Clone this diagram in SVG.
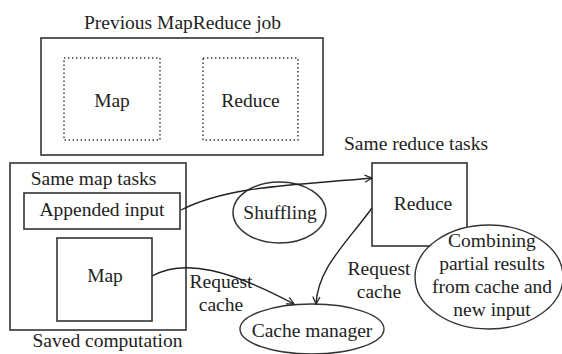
<svg xmlns="http://www.w3.org/2000/svg" width="562" height="354" viewBox="0 0 562 354" font-family="Liberation Serif, serif">
<style>
text{font-family:Liberation Serif,Times New Roman,serif;font-size:19.5px;fill:#222;text-anchor:middle}
.box{fill:none;stroke:#333;stroke-width:1.6}
.dot{fill:none;stroke:#333;stroke-width:1.4;stroke-dasharray:1.4 2.6}
.ell{fill:#fff;stroke:#333;stroke-width:1.4}
.conn{fill:none;stroke:#222;stroke-width:1.4;marker-end:url(#arr)}
</style>
<defs>
<marker id="arr" viewBox="0 0 10 10" refX="9" refY="5" markerWidth="9" markerHeight="9" markerUnits="userSpaceOnUse" orient="auto">
<path d="M1,1 L9,5 L1,9" fill="none" stroke="#222" stroke-width="1.4"/>
</marker>
</defs>
<rect width="562" height="354" fill="#fff"/>
<g id="previous-job">
<text x="182.5" y="29">Previous MapReduce job</text>
<rect class="box" x="41" y="38" width="282" height="117"/>
</g>
<g id="prev-map">
<rect class="dot" x="64" y="58" width="96" height="82"/>
<text x="112" y="107">Map</text>
</g>
<g id="prev-reduce">
<rect class="dot" x="203" y="58" width="95" height="82"/>
<text x="250.5" y="107">Reduce</text>
</g>
<g id="same-map-tasks">
<rect class="box" x="10" y="163" width="176" height="167"/>
<text x="93.5" y="185">Same map tasks</text>
<text x="107.5" y="347">Saved computation</text>
</g>
<g id="appended-input">
<rect class="box" x="24" y="193" width="156" height="36"/>
<text x="102" y="216">Appended input</text>
</g>
<g id="map">
<rect class="box" x="57" y="238" width="95" height="83"/>
<text x="105" y="282">Map</text>
</g>
<g id="shuffling">
<ellipse class="ell" cx="279.5" cy="212.5" rx="46.5" ry="30.5"/>
<text x="280" y="219">Shuffling</text>
</g>
<g id="reduce">
<text x="416" y="150">Same reduce tasks</text>
<rect class="box" x="372" y="163" width="95" height="83"/>
<text x="423" y="210">Reduce</text>
</g>
<g id="combining">
<ellipse class="ell" cx="489" cy="277" rx="74" ry="52"/>
<text x="492" y="247">Combining</text>
<text x="492" y="270">partial results</text>
<text x="492" y="293">from cache and</text>
<text x="492" y="316">new input</text>
</g>
<g id="cache-manager">
<ellipse class="ell" cx="312" cy="329" rx="72" ry="25"/>
<text x="312" y="337">Cache manager</text>
</g>
<g id="connectors">
<path class="conn" d="M181,210 C230,185 300,185 372,178"/>
<path class="conn" d="M152,276 C185,258 230,270 294,304"/>
<path class="conn" d="M372,208 C345,245 318,268 316,304"/>
<text x="221" y="288">Request</text>
<text x="221" y="311">cache</text>
<text x="379" y="275">Request</text>
<text x="379" y="298">cache</text>
</g>
</svg>
